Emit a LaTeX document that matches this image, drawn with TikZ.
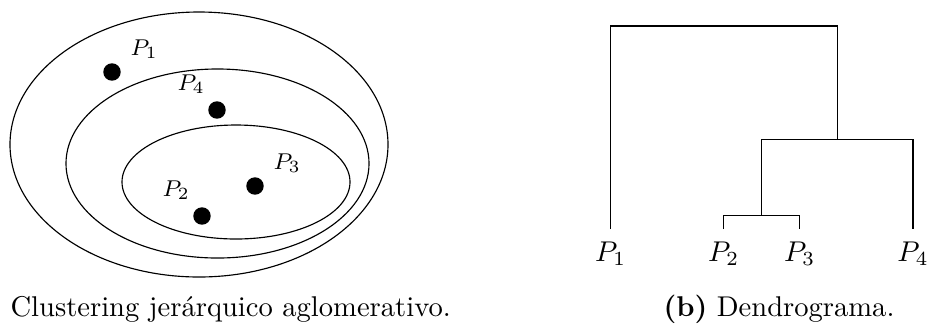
\documentclass[tikz,border=0pt]{standalone}
\begin{document}
\begin{tikzpicture}[x=0.35pt,y=-0.35pt,
  dot/.style={circle,fill=black,draw=none,inner sep=0pt,minimum size=6.1pt},
  lbl/.style={font=\footnotesize,inner sep=0pt,anchor=base west},
  leaf/.style={inner sep=0pt,anchor=base},
  captext/.style={inner sep=0pt,anchor=base west}]
\useasboundingbox (0,0) rectangle (927,324);
% clusters
\draw (199,144.5) ellipse [x radius=66.15pt, y radius=46.375pt];
\draw (217.5,163.5) ellipse [x radius=53.03pt, y radius=33.08pt];
\draw (236,182) ellipse [x radius=39.9pt, y radius=19.95pt];
% points
\node[dot] (d1) at (112,72) {};
\node[dot] (d4) at (217,110) {};
\node[dot] (d3) at (255,186) {};
\node[dot] (d2) at (202,216) {};
\node[lbl] (t1) at (130,55) {$P_1$};
\node[lbl] (t4) at (177,90) {$P_4$};
\node[lbl] (t3) at (273,169) {$P_3$};
\node[lbl] (t2) at (162,196) {$P_2$};
% dendrogram
\coordinate (l1) at (610.7,229);
\coordinate (l2) at (723.7,229);
\coordinate (l3) at (799.7,229);
\coordinate (l4) at (913,229);
\coordinate (m23) at (761.7,215.3);
\coordinate (m234) at (837.3,139.3);
\coordinate (top) at (724,26);
\draw (l2) -- (l2 |- m23) -- (l3 |- m23) -- (l3);
\draw (m23) -- (m23 |- m234);
\draw (m23 |- m234) -- (l4 |- m234) -- (l4);
\draw (l1) -- (l1 |- top) -- (m234 |- top) -- (m234);
\node[leaf] (p1) at (610.7,261.7) {$P_1$};
\node[leaf] (p2) at (723.7,261.7) {$P_2$};
\node[leaf] (p3) at (799.7,261.7) {$P_3$};
\node[leaf] (p4) at (913,261.7) {$P_4$};
% captions
\node[captext] (capa) at (10,316) {Clustering jerárquico aglomerativo.};
\node[captext] (capb) at (663,316) {\textbf{(b)} Dendrograma.};
\end{tikzpicture}
\end{document}
